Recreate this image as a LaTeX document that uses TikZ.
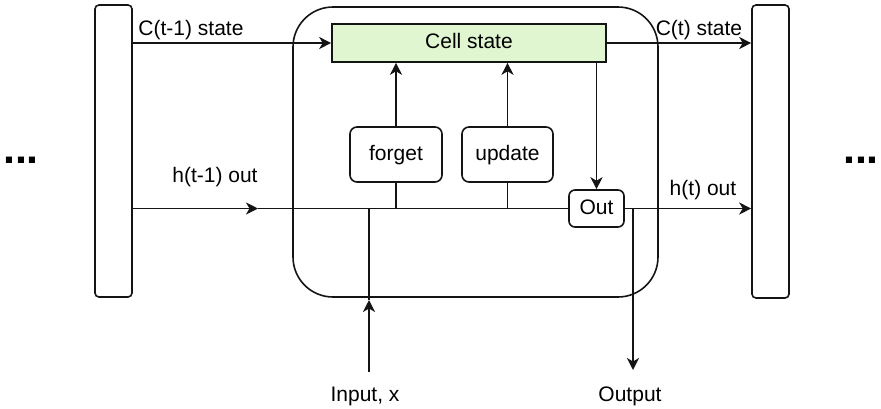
\documentclass[tikz,border=0pt]{standalone}
\usepackage{fontspec}
\setmainfont{Liberation Sans}
\usetikzlibrary{arrows.meta}
\definecolor{cellfill}{RGB}{223,246,208}
\definecolor{ink}{RGB}{20,20,20}
\tikzset{
  base/.style={draw=ink, line width=1.6pt},
  bar/.style={base, rounded corners=4pt, minimum width=37pt, minimum height=292pt, inner sep=0pt},
  gate/.style={base, rounded corners=7pt, inner sep=0pt, font=\fontsize{21}{25}\selectfont,
    text height=15pt, text depth=4pt},
  lbl/.style={inner sep=0pt, font=\fontsize{21}{25}\selectfont, text height=15pt, text depth=4pt},
  flow/.style={draw=ink, line width=1.6pt},
  arr/.style={flow, -{Stealth[length=12pt,width=12pt,inset=3.5pt]}},
  dots/.style={inner sep=0pt, font=\fontsize{43}{50}\selectfont\bfseries},
}
\begin{document}
\begin{tikzpicture}[x=1pt,y=-1pt]
\useasboundingbox (0,0) rectangle (881,408);

% neighbouring time steps
\node[bar] (leftbar) at (113.5,151) {};
\node[bar, minimum height=293pt] (rightbar) at (770.5,151.5) {};

% the LSTM cell and its parts
\node[base, rounded corners=40pt, minimum width=365pt, minimum height=290pt, inner sep=0pt] (cell) at (475.5,152) {};
\node[base, fill=cellfill, minimum width=274pt, minimum height=38pt, inner sep=0pt,
      font=\fontsize{21}{25}\selectfont, text height=15pt, text depth=4pt] (cellstate) at (469,43) {Cell state};
\node[gate, minimum width=92pt, minimum height=55pt] (forget) at (396,154.5) {forget};
\node[gate, minimum width=91pt, minimum height=55pt] (update) at (507.5,154.5) {update};
\node[gate, rounded corners=6pt, minimum width=55pt, minimum height=37pt] (out) at (596.5,208.5) {Out};

% free ends
\coordinate (hmid) at (258,208.5);
\coordinate (inbot) at (369,372);
\coordinate (inmid) at (369,300);
\coordinate (split) at (633,208.5);
\coordinate (outbot) at (633,370);

% cell state path
\draw[arr] (leftbar.east |- cellstate.west) -- (cellstate.west);
\draw[arr] (cellstate.east) -- (rightbar.west |- cellstate.east);

% gates feeding the cell state
\draw[arr] (forget.north) -- (forget.north |- cellstate.south);
\draw[arr] (update.north) -- (update.north |- cellstate.south);
\draw[arr] (out.north |- cellstate.south) -- (out.north);

% hidden state path
\draw[arr] (leftbar.east |- hmid) -- (hmid);
\draw[flow] (hmid) -- (out.west);
\draw[flow] (forget.south) -- (forget.south |- out.west);
\draw[flow] (update.south) -- (update.south |- out.west);
\draw[arr] (out.east) -- (rightbar.west |- out.east);

% input and output
\draw[arr] (inbot) -- (inmid);
\draw[flow] (inmid) -- (inmid |- out.west);
\draw[arr] (split) -- (outbot);

% labels
\node[lbl] (lc0) at (191,30) {C(t-1) state};
\node[lbl] (lc1) at (699,30) {C(t) state};
\node[lbl] (lh0) at (215,177) {h(t-1) out};
\node[lbl] (lh1) at (703,190) {h(t) out};
\node[lbl] (lin) at (365,396) {Input, x};
\node[lbl] (lout) at (630,396) {Output};

% continuation marks
\node[dots, anchor=base] (dl) at (21,163) {...};
\node[dots, anchor=base] (dr) at (861,163) {...};
\end{tikzpicture}
\end{document}
